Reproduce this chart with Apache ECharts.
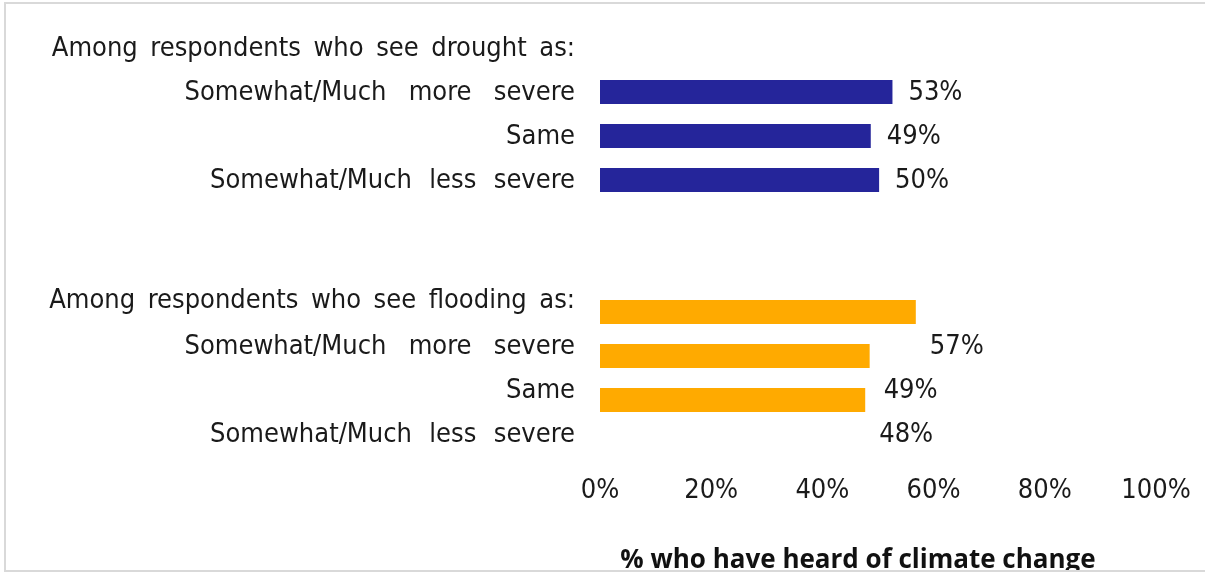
<!DOCTYPE html>
<html>
<head>
<meta charset="utf-8">
<title>Heard of climate change</title>
<script src="https://cdn.jsdelivr.net/npm/echarts@6/dist/echarts.min.js"></script>
<style>
    html, body { margin: 0; padding: 0; background: #fff; }
    #chart { width: 1205px; height: 577px; }
</style>
</head>
<body>
<div id="chart"></div>
<script>
// rows of the chart, top to bottom (row 4 is a spacer)
var categories = [
    'Among respondents who see drought as:',
    'Somewhat/Much more severe',
    'Same',
    'Somewhat/Much less severe',
    '',
    'Among respondents who see flooding as:',
    'Somewhat/Much more severe',
    'Same',
    'Somewhat/Much less severe'
];
var droughtValues = [52.6, 48.7, 50.2];
var floodValues = [56.8, 48.5, 47.7];
var xTicks = [0, 20, 40, 60, 80, 100];

var font = '"DejaVu Sans Condensed", "DejaVu Sans", sans-serif';
var floodStart = 5;
// extra room after each space, the original text is spread out a bit
var wordGap = ['\u2009', '\u2009\u2009\u200a\u200a', '', '\u2009\u200a\u200a', '',
    '\u2009', '\u2009\u2009\u200a\u200a', '', '\u2009\u200a\u200a'];

function buildData(values, startRow, shift) {
    var d = [];
    for (var i = 0; i < categories.length; i++) {
        d.push('-');
    }
    for (var j = 0; j < values.length; j++) {
        d[startRow + j] = { value: values[j], label: { offset: [0, shift] } };
    }
    return d;
}

function valueLabel(p) {
    return Math.round(p.value) + '%';
}

var chart = echarts.init(document.getElementById('chart'));
chart.setOption({
    animation: false,
    grid: {
        left: 600, right: 49, top: 26, bottom: 155,
        containLabel: false,
        outerBoundsMode: 'none'
    },
    xAxis: {
        type: 'value',
        min: xTicks[0],
        max: xTicks[xTicks.length - 1],
        interval: 20,
        axisLine: { show: false },
        axisTick: { show: false },
        splitLine: { show: false },
        axisLabel: {
            margin: 55,
            fontFamily: font,
            fontSize: 27,
            color: '#1a1a1a',
            formatter: '{value}%'
        },
        name: '% who have heard of climate change',
        nameLocation: 'middle',
        nameGap: 126,
        nameTextStyle: {
            fontFamily: '"Open Sans", sans-serif',
            fontWeight: 'bold',
            fontSize: 26,
            color: '#111',
            padding: [0, 40, 0, 0]
        }
    },
    yAxis: {
        type: 'category',
        inverse: true,
        data: categories,
        axisLine: { show: false },
        axisTick: { show: false },
        splitLine: { show: false },
        axisLabel: {
            margin: 25,
            fontFamily: font,
            fontSize: 27,
            color: '#1a1a1a',
            formatter: function (value, index) {
                var text = value.split(' ').join(' ' + wordGap[index]);
                // the flooding block's text sits lower than its bars
                if (index == floodStart) {
                    return '{h|' + text + '}';
                }
                if (index > floodStart) {
                    return '{f|' + text + '}';
                }
                return '{d|' + text + '}';
            },
            rich: {
                d: { fontFamily: font, fontSize: 27, color: '#1a1a1a', padding: [1, 0, 0, 0] },
                h: { fontFamily: font, fontSize: 27, color: '#1a1a1a', padding: [66, 0, 0, 0] },
                f: { fontFamily: font, fontSize: 27, color: '#1a1a1a', padding: [69, 0, 0, 0] }
            }
        }
    },
    series: [
        {
            name: 'Drought',
            type: 'bar',
            barWidth: 24,
            barGap: '-100%',
            itemStyle: { color: '#25259a' },
            label: {
                show: true,
                position: 'right',
                distance: 16,
                fontFamily: font,
                fontSize: 27,
                color: '#1a1a1a',
                formatter: valueLabel
            },
            data: buildData(droughtValues, 1, 1)
        },
        {
            name: 'Flooding',
            type: 'bar',
            barWidth: 24,
            barGap: '-100%',
            itemStyle: { color: '#ffaa00' },
            label: {
                show: true,
                position: 'right',
                distance: 14,
                fontFamily: font,
                fontSize: 27,
                color: '#1a1a1a',
                formatter: valueLabel
            },
            data: buildData(floodValues, 6, 35)
        }
    ],
    graphic: [
        {
            // cover below the frame so the axis title looks cut off
            type: 'rect',
            z: 100,
            shape: { x: 0, y: 571, width: 1205, height: 6 },
            style: { fill: '#fff' }
        },
        {
            type: 'rect',
            z: 101,
            shape: { x: 5, y: 3, width: 1210, height: 568 },
            style: { fill: 'none', stroke: '#d9d9d9', lineWidth: 2 }
        }
    ]
});
</script>
</body>
</html>
